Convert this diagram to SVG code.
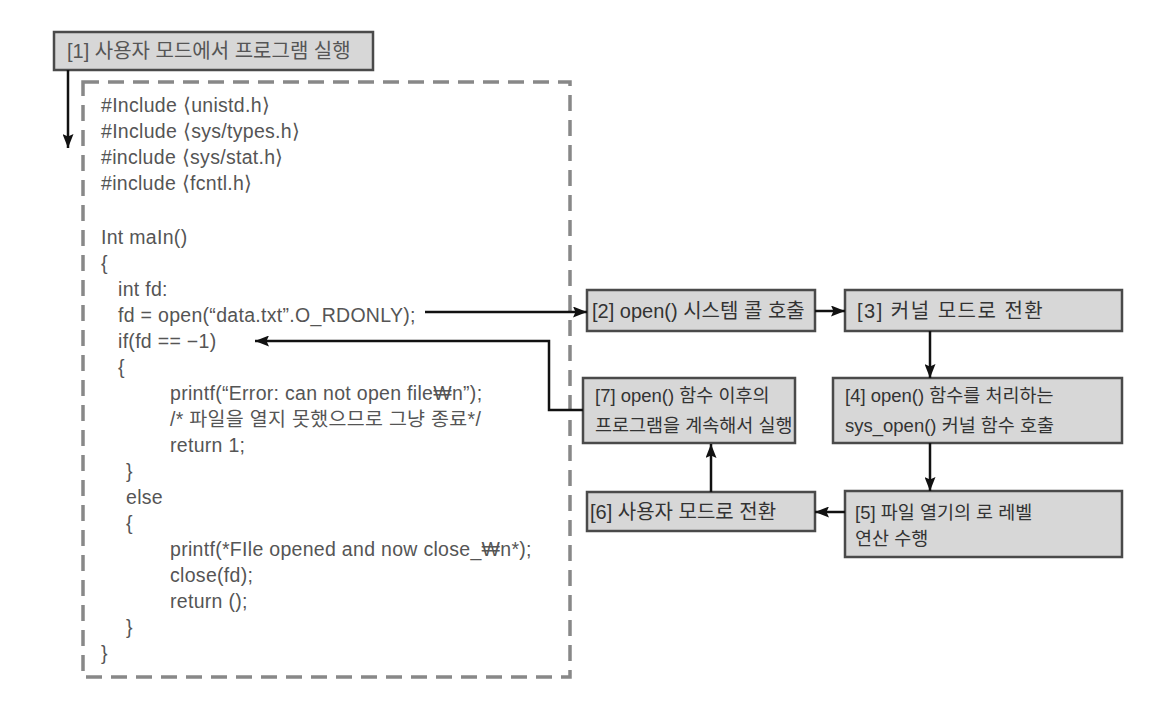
<svg xmlns="http://www.w3.org/2000/svg" width="1175" height="706" viewBox="0 0 1175 706">
<defs>
<style>
.box{fill:#d7d7d7;stroke:#4a4a4a;stroke-width:2.5}
.bt{font-family:"Liberation Sans","Noto Sans CJK KR",sans-serif;font-size:20px;fill:#333}
.bt2{font-family:"Liberation Sans","Noto Sans CJK KR",sans-serif;font-size:18.5px;fill:#333}
.code{font-family:"Liberation Sans","Noto Sans CJK KR",sans-serif;font-size:19.5px;fill:#555;letter-spacing:0.3px}
.conn{fill:none;stroke:#111;stroke-width:2.5}
.dash{fill:none;stroke:#888;stroke-width:3.5;stroke-dasharray:16 9}
</style>
<marker id="ah" markerUnits="userSpaceOnUse" markerWidth="15" markerHeight="11" refX="14" refY="5.5" orient="auto">
<path d="M0,0 L14,5.5 L0,11 L2.5,5.5 z" fill="#111"/>
</marker>
</defs>
<rect width="1175" height="706" fill="#fff"/>

<g id="code-block">
<rect class="dash" x="83" y="82" width="487" height="595"/>
<text class="code" x="101" y="112">#Include ⟨unistd.h⟩</text>
<text class="code" x="101" y="138">#Include ⟨sys/types.h⟩</text>
<text class="code" x="101" y="164">#include ⟨sys/stat.h⟩</text>
<text class="code" x="101" y="190">#include ⟨fcntl.h⟩</text>
<text class="code" x="101" y="244">Int maIn()</text>
<text class="code" x="101" y="270">{</text>
<text class="code" x="118" y="296">int fd:</text>
<text class="code" x="118" y="322">fd = open(“data.txt”.O_RDONLY);</text>
<text class="code" x="118" y="348">if(fd == −1)</text>
<text class="code" x="118" y="374">{</text>
<text class="code" x="170" y="400">printf(“Error: can not open file₩n”);</text>
<text class="code" x="170" y="426">/* 파일을 열지 못했으므로 그냥 종료*/</text>
<text class="code" x="170" y="452">return 1;</text>
<text class="code" x="126" y="478">}</text>
<text class="code" x="126" y="504">else</text>
<text class="code" x="126" y="530">{</text>
<text class="code" x="170" y="556">printf(*FIle opened and now close_₩n*);</text>
<text class="code" x="170" y="582">close(fd);</text>
<text class="code" x="170" y="608">return ();</text>
<text class="code" x="126" y="634">}</text>
<text class="code" x="101" y="660">}</text>
</g>

<g id="node1">
<rect class="box" x="54" y="32" width="319" height="38"/>
<text class="bt" x="67" y="58" style="fill:#555">[1] 사용자 모드에서 프로그램 실행</text>
</g>
<g id="node2">
<rect class="box" x="587" y="290" width="228" height="41"/>
<text class="bt" x="592" y="318">[2] open() 시스템 콜 호출</text>
</g>
<g id="node3">
<rect class="box" x="845" y="290" width="277" height="41"/>
<text class="bt" x="857" y="318" style="letter-spacing:1.5px">[3] 커널 모드로 전환</text>
</g>
<g id="node4">
<rect class="box" x="833" y="378" width="289" height="65"/>
<text class="bt2" x="845" y="402">[4] open() 함수를 처리하는</text>
<text class="bt2" x="845" y="432">sys_open() 커널 함수 호출</text>
</g>
<g id="node5">
<rect class="box" x="845" y="491" width="277" height="66"/>
<text class="bt2" x="855" y="519">[5] 파일 열기의 로 레벨</text>
<text class="bt2" x="855" y="545">연산 수행</text>
</g>
<g id="node6">
<rect class="box" x="587" y="492" width="228" height="39"/>
<text class="bt" x="590" y="519">[6] 사용자 모드로 전환</text>
</g>
<g id="node7">
<rect class="box" x="583" y="378" width="212" height="65"/>
<text class="bt2" x="595" y="402">[7] open() 함수 이후의</text>
<text class="bt2" x="595" y="432">프로그램을 계속해서 실행</text>
</g>

<g id="connectors">
<line class="conn" x1="68" y1="70" x2="68" y2="148" marker-end="url(#ah)"/>
<line class="conn" x1="425" y1="312" x2="587" y2="312" marker-end="url(#ah)"/>
<line class="conn" x1="815" y1="311" x2="845" y2="311" marker-end="url(#ah)"/>
<line class="conn" x1="930" y1="331" x2="930" y2="378" marker-end="url(#ah)"/>
<line class="conn" x1="930" y1="443" x2="930" y2="491" marker-end="url(#ah)"/>
<line class="conn" x1="845" y1="512" x2="815" y2="512" marker-end="url(#ah)"/>
<line class="conn" x1="711" y1="492" x2="711" y2="444" marker-end="url(#ah)"/>
<polyline class="conn" points="583,410 549,410 549,341 255,341" marker-end="url(#ah)"/>
</g>
</svg>
